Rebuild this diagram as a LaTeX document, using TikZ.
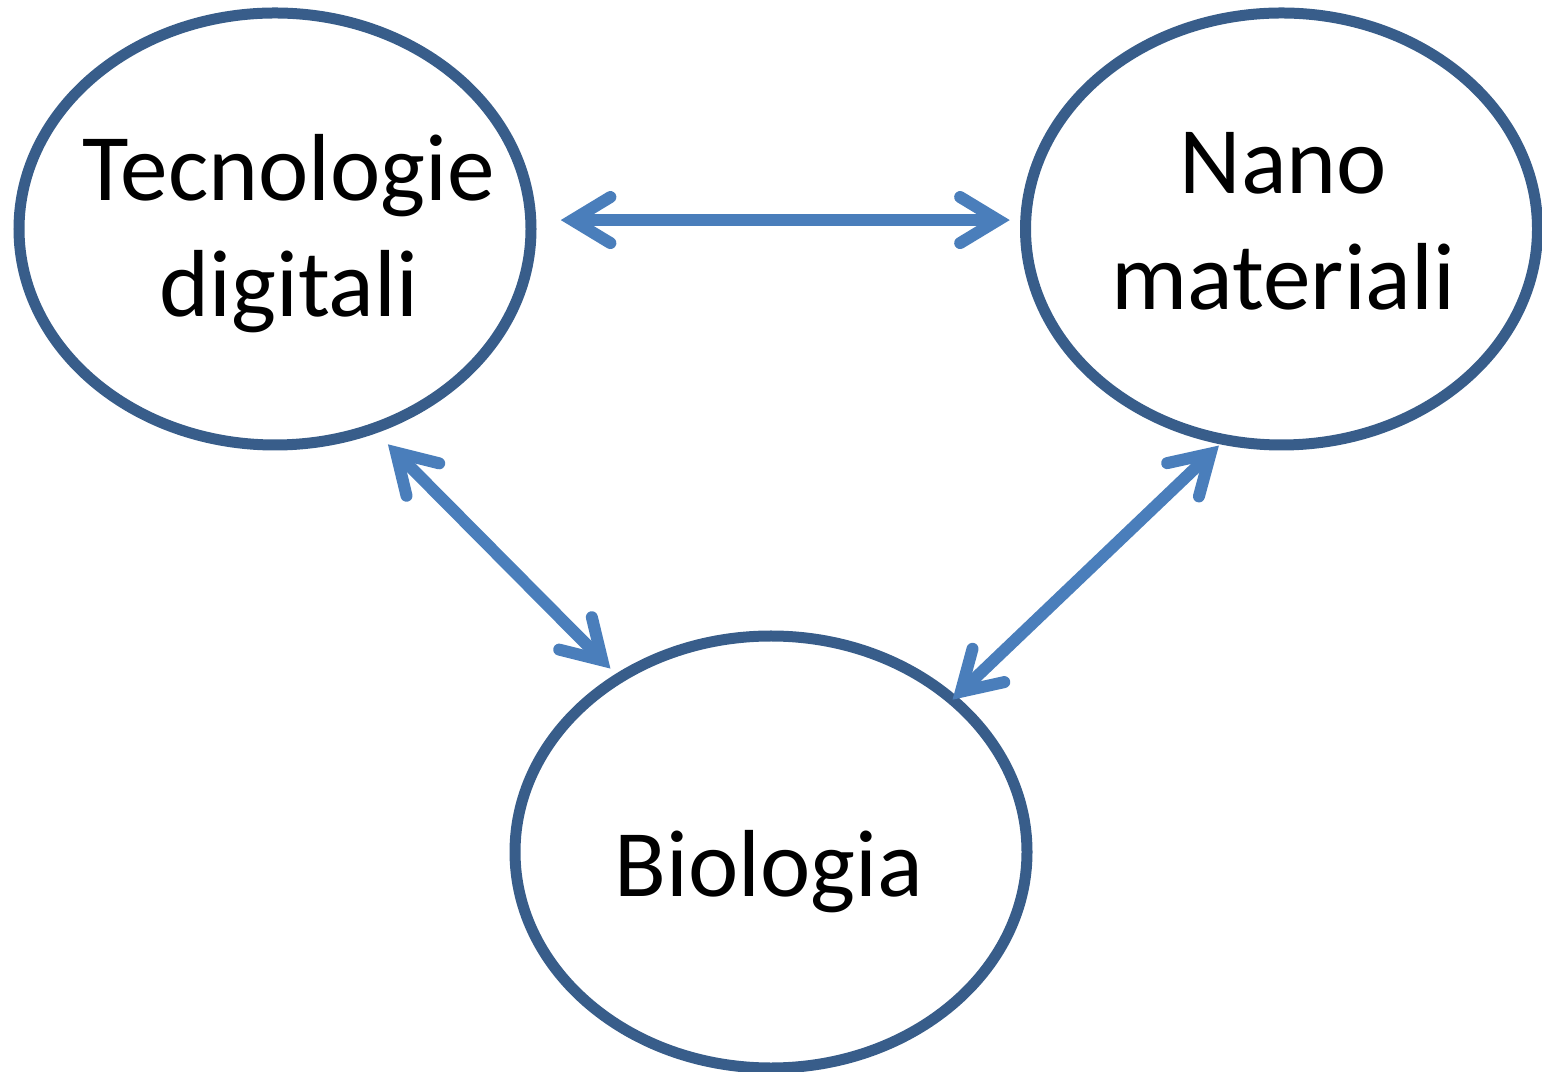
\documentclass[tikz,border=0pt]{standalone}
\usepackage{fontspec}
\setmainfont{Carlito}
\usetikzlibrary{shapes.geometric,arrows.meta}
\definecolor{ringblue}{HTML}{385D8A}
\definecolor{linkblue}{HTML}{4A7EBB}

\begin{document}
\begin{tikzpicture}
\tikzstyle{topic}=[ellipse, minimum width=5.12cm, minimum height=4.32cm, inner sep=0pt, outer sep=0pt, line width=0.11cm, draw=ringblue]
\tikzstyle{every label}=[align=center, font=\fontsize{27.1}{33}\selectfont, inner sep=0pt]
\tikzstyle{link}=[<->, >={Straight Barb[length=0.38cm, width=0.46cm, line join=miter, line cap=round]}, line width=0.12cm, draw=linkblue]
\useasboundingbox (0,0) rectangle (15.42,-10.72);

\node[topic] (tec) at (2.75,-2.29) [label={[xshift=0.14cm, yshift=-0.05cm]center:{Tecnologie\\digitali}}]{};
\node[topic] (nano) at (12.815,-2.29) [label={[xshift=0.02cm, yshift=0.08cm]center:{Nano\\materiali}}]{};
\node[topic] (bio) at (7.71,-8.52) [label={[xshift=-0.02cm, yshift=-0.20cm]center:{Biologia}}]{};

\draw[link, shorten <=0.30cm, shorten >=0.16cm] (tec.2) -- (nano.178);
\draw[link, shorten <=0.22cm, shorten >=0.13cm] (tec.296) -- (bio.131);
\draw[link, shorten <=0.085cm] (nano.255) -- (bio.40);
\end{tikzpicture}
\end{document}
